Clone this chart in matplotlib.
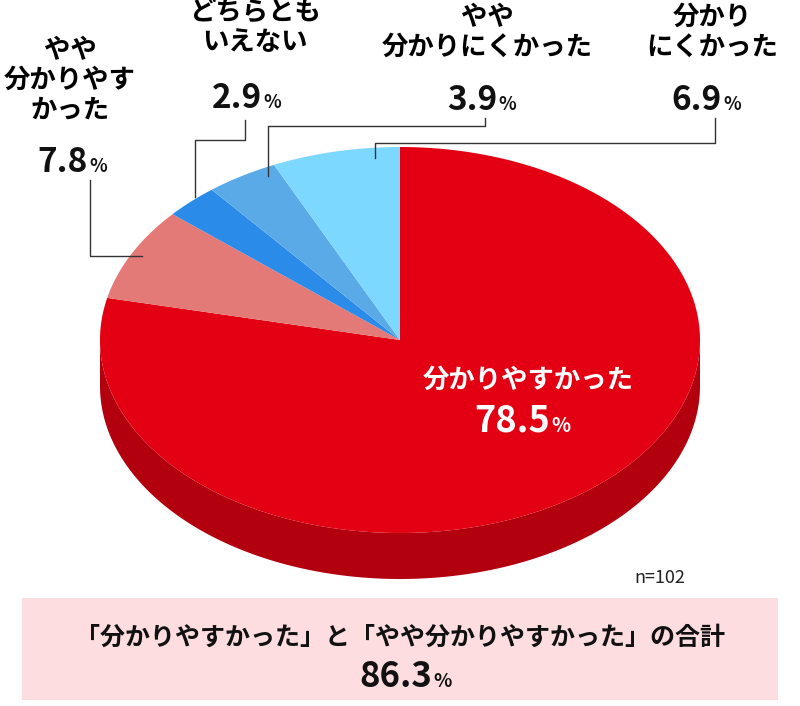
import numpy as np
import matplotlib
matplotlib.use("Agg")
import matplotlib.pyplot as plt
from matplotlib.patches import Polygon, Rectangle

labels = ["分かりやすかった", "やや分かりやすかった", "どちらともいえない", "やや分かりにくかった", "分かりにくかった"]
values = [78.5, 7.8, 2.9, 3.9, 6.9]
colors = ["#E20012", "#E47A78", "#2B8BE8", "#5AAAE8", "#7DD8FF"]
total_label = "86.3"
n_label = "n=102"

FONT = "Noto Sans CJK JP"
plt.rcParams["font.family"] = FONT

fig = plt.figure(figsize=(8, 7.06), dpi=100)
ax = fig.add_axes([0, 0, 1, 1])
ax.set_xlim(0, 800); ax.set_ylim(706, 0); ax.axis("off")

cx, cy, rx, ry, depth = 400, 340, 300, 193, 46

def pt(a):  # a: degrees clockwise from 12 o'clock
    r = np.radians(a)
    return cx + rx*np.sin(r), cy - ry*np.cos(r)

# side (front half is entirely the first slice)
t = np.linspace(90, 270, 200)
top = [pt(a) for a in t]
bot = [(x, y+depth) for x, y in top[::-1]]
ax.add_patch(Polygon(top+bot, closed=True, fc="#B3000F", ec="none"))

start = 0
for v, c in zip(values, colors):
    end = start + v/100*360
    a = np.linspace(start, end, max(3, int(v*4)))
    poly = [(cx, cy)] + [pt(x) for x in a]
    ax.add_patch(Polygon(poly, closed=True, fc=c, ec="none"))
    start = end

def pct(x, y, num, color="#111", size=24):
    ax.text(x, y, num, ha="right", va="baseline", fontsize=size, fontweight="bold", color=color)
    ax.text(x+1, y, "%", ha="left", va="baseline", fontsize=size*0.55, fontweight="bold", color=color)

ax.text(528, 388, "分かりやすかった", ha="center", va="baseline", fontsize=19, fontweight="bold", color="white")
pct(550, 432, "78.5", color="white", size=26)

ax.text(70, 118, "やや\n分かりやす\nかった", ha="center", va="baseline", fontsize=19, fontweight="bold", linespacing=1.15)
pct(88, 172, "7.8")
ax.text(255, 50, "どちらとも\nいえない", ha="center", va="baseline", fontsize=19, fontweight="bold", linespacing=1.15)
pct(262, 108, "2.9")
ax.text(487, 55, "やや\n分かりにくかった", ha="center", va="baseline", fontsize=19, fontweight="bold", linespacing=1.15)
pct(497, 110, "3.9")
ax.text(712, 55, "分かり\nにくかった", ha="center", va="baseline", fontsize=19, fontweight="bold", linespacing=1.15)
pct(722, 110, "6.9")

lc = dict(color="#333", lw=1)
ax.plot([90, 90, 142], [180, 256, 256], **lc)
ax.plot([245, 245, 195, 195], [120, 140, 140, 197], **lc)
ax.plot([485, 485, 268, 268], [118, 126, 126, 176], **lc)
ax.plot([715, 715, 375, 375], [118, 143, 143, 158], **lc)

ax.text(660, 583, n_label, ha="center", va="baseline", fontsize=13, color="#222")

ax.add_patch(Rectangle((22, 598), 756, 102, fc="#FDDDE0", ec="none"))
ax.text(400, 645, "「分かりやすかった」と「やや分かりやすかった」の合計", ha="center", va="baseline", fontsize=18, fontweight="bold", color="#111")
pct(432, 687, total_label, size=25)

fig.savefig("out.png", dpi=100)
